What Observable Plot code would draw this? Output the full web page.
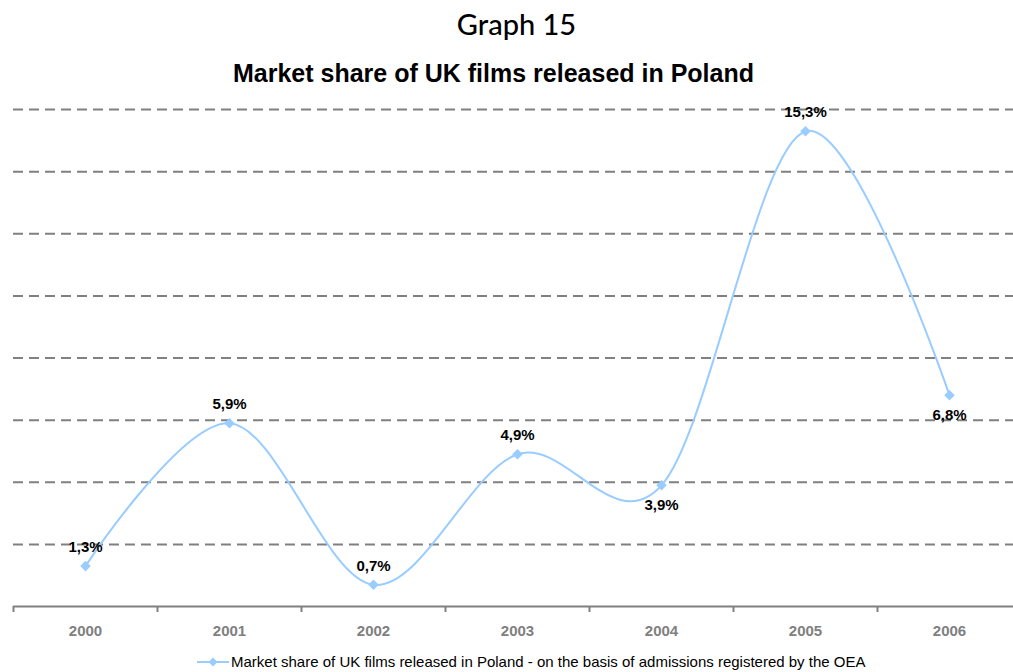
<!DOCTYPE html>
<html>
<head>
<meta charset="utf-8">
<script src="https://cdn.jsdelivr.net/npm/d3@7"></script>
<script src="https://cdn.jsdelivr.net/npm/@observablehq/plot@0.6"></script>
<style>
  html, body { margin: 0; padding: 0; background: #fff; }
  #wrap { position: relative; width: 1013px; height: 672px; overflow: hidden; background: #fff; }
  #g { position: absolute; left: 0; top: 0; width: 1013px; height: 48px; line-height: 48px; text-align: center;
       font-family: Lato, "Open Sans", sans-serif; font-size: 29px; font-weight: 500; color: #000; padding-left: 20px; box-sizing: border-box; }
  #t { position: absolute; left: 0; top: 56px; width: 1013px; height: 34px; line-height: 34px; text-align: center;
       font-family: "Liberation Sans", Arial, sans-serif; font-weight: bold; font-size: 25px; color: #000; padding-right: 26px; box-sizing: border-box; }
  #chart { position: absolute; left: 0; top: 90px; }
  #legend { position: absolute; left: 197px; top: 652px; height: 20px; line-height: 20px; white-space: nowrap;
       font-family: "Liberation Sans", Arial, sans-serif; font-size: 15px; color: #000; display: flex; align-items: center; }
  #legend svg { margin-right: 2px; }
</style>
</head>
<body>
<div id="wrap">
  <div id="g">Graph 15</div>
  <div id="t">Market share of UK films released in Poland</div>
  <div id="chart"></div>
  <div id="legend"></div>
</div>
<script>
const years = [2000, 2001, 2002, 2003, 2004, 2005, 2006];
const shares = [1.3, 5.9, 0.7, 4.9, 3.9, 15.3, 6.8];
const labelSide = ["above", "above", "above", "above", "below", "above", "below"];
const gridValues = [2, 4, 6, 8, 10, 12, 14, 16];
const seriesName = "Market share of UK films released in Poland - on the basis of admissions registered by the OEA";

const data = years.map((y, i) => ({year: y, share: shares[i], side: labelSide[i]}));
const boundaries = years.map(y => y - 0.5);
const fmt = v => String(v).replace(".", ",") + "%";
const lineColor = "#99CCFF";
const gridColor = "#808080";
const font = "Liberation Sans, Arial, sans-serif";

const plot = Plot.plot({
  width: 1013,
  height: 560,
  marginLeft: 13,
  marginRight: 0,
  marginTop: 19,
  marginBottom: 44,
  style: {background: "transparent", overflow: "visible"},
  x: {type: "linear", domain: [1999.5, 2006.5], range: [13, 1021]},
  y: {domain: [0, 16], axis: null},
  marks: [
    Plot.ruleY(gridValues, {stroke: gridColor, strokeWidth: 2, strokeDasharray: "10,6"}),
    Plot.ruleY([0], {stroke: gridColor, strokeWidth: 2}),
    Plot.axisX({ticks: boundaries, tickSize: 6, tickFormat: () => "", stroke: gridColor, strokeWidth: 2, label: null}),
    Plot.axisX({ticks: years, tickSize: 0, tickPadding: 19, tickFormat: d => String(d),
      fill: gridColor, fontWeight: "bold", fontSize: 15, fontFamily: font, label: null}),
    Plot.line(data, {x: "year", y: "share", curve: "cardinal", stroke: lineColor, strokeWidth: 2}),
    Plot.dot(data, {x: "year", y: "share", symbol: "square", rotate: 45, r: 4.2, fill: lineColor, stroke: "none"}),
    Plot.text(data.filter(d => d.side === "above"), {x: "year", y: "share", text: d => fmt(d.share), dy: -19,
      fontWeight: "bold", fontSize: 15, fill: "#000", fontFamily: font}),
    Plot.text(data.filter(d => d.side === "below"), {x: "year", y: "share", text: d => fmt(d.share), dy: 20,
      fontWeight: "bold", fontSize: 15, fill: "#000", fontFamily: font})
  ]
});
document.getElementById("chart").appendChild(plot);

const lg = document.getElementById("legend");
lg.innerHTML = `<svg width="32" height="12" viewBox="0 0 32 12">
  <line x1="0" y1="6" x2="32" y2="6" stroke="${lineColor}" stroke-width="2"/>
  <path d="M16,1.5 L20.5,6 L16,10.5 L11.5,6 Z" fill="${lineColor}"/>
</svg><span></span>`;
lg.querySelector("span").textContent = seriesName;
</script>
</body>
</html>
